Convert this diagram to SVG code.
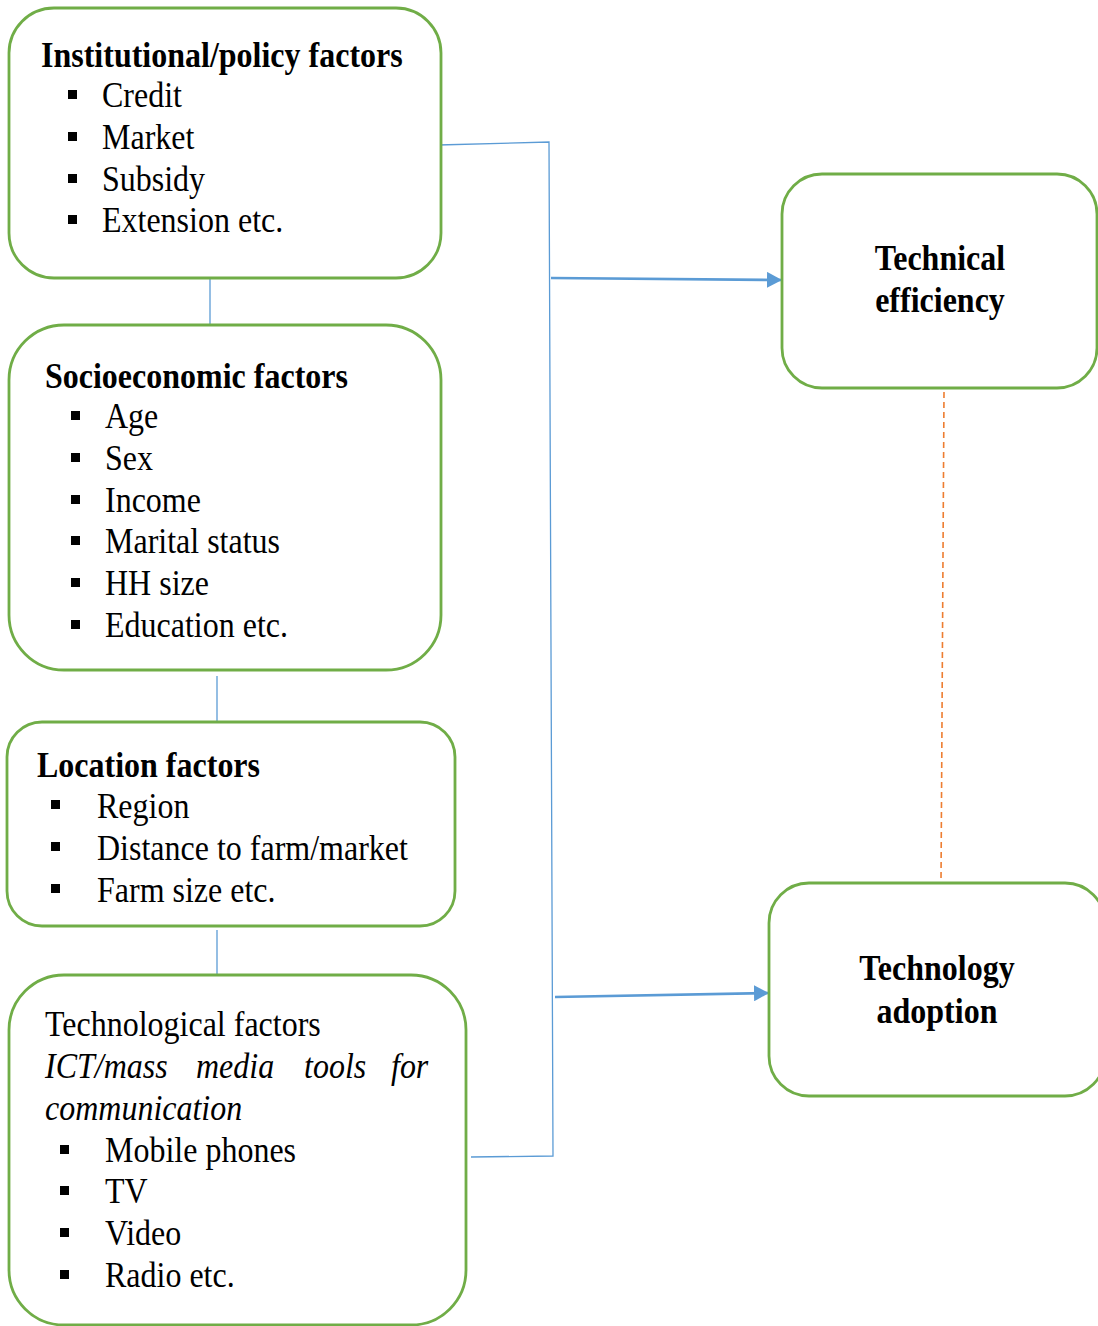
<svg xmlns="http://www.w3.org/2000/svg" width="1098" height="1326" viewBox="0 0 1098 1326">
<style>
.box{fill:#fff;stroke:#70AD47;stroke-width:2.8}
.t{font-family:"Liberation Serif","Times New Roman",serif;font-size:32px;fill:#000}
.b{font-weight:bold}
.i{font-style:italic}
.c{text-anchor:middle}
.thin{stroke:#5B9BD5;stroke-width:1.3;fill:none}
.thick{stroke:#5B9BD5;stroke-width:2.6;fill:none}
.dash{stroke:#ED7D31;stroke-width:1.6;stroke-dasharray:6 4;fill:none}
</style>
<defs>
<marker id="arr" markerUnits="userSpaceOnUse" markerWidth="16" markerHeight="16" refX="15" refY="8" orient="auto">
<path d="M0,0 L15,8 L0,16 Z" fill="#5B9BD5"/>
</marker>
</defs>
<rect width="1098" height="1326" fill="#fff"/>
<g id="connectors">
<path class="thin" d="M438,145 L549,142 L553,1156 L471,1157"/>
<path class="thin" d="M210,278 L210,325"/>
<path class="thin" d="M217,676 L217,722"/>
<path class="thin" d="M217,930 L217,975"/>
<path class="thick" d="M551,278 L782,280" marker-end="url(#arr)"/>
<path class="thick" d="M555,997 L769,993" marker-end="url(#arr)"/>
<path class="dash" d="M944,392 L941,883"/>
</g>
<g id="institutional">
<rect class="box" x="9" y="8" width="432" height="270" rx="45"/>
<text class="t b" x="41" y="0" transform="translate(0,67) scale(1,1.12)">Institutional/policy factors</text>
<rect x="68" y="90" width="9" height="9"/><text class="t" x="102" y="0" transform="translate(0,107) scale(1,1.12)">Credit</text>
<rect x="68" y="132" width="9" height="9"/><text class="t" x="102" y="0" transform="translate(0,149) scale(1,1.12)">Market</text>
<rect x="68" y="174" width="9" height="9"/><text class="t" x="102" y="0" transform="translate(0,191) scale(1,1.12)">Subsidy</text>
<rect x="68" y="215" width="9" height="9"/><text class="t" x="102" y="0" transform="translate(0,232) scale(1,1.12)">Extension etc.</text>
</g>
<g id="socioeconomic">
<rect class="box" x="9" y="325" width="432" height="345" rx="55"/>
<text class="t b" x="45" y="0" transform="translate(0,388) scale(1,1.12)">Socioeconomic factors</text>
<rect x="71" y="411" width="9" height="9"/><text class="t" x="105" y="0" transform="translate(0,428) scale(1,1.12)">Age</text>
<rect x="71" y="453" width="9" height="9"/><text class="t" x="105" y="0" transform="translate(0,470) scale(1,1.12)">Sex</text>
<rect x="71" y="495" width="9" height="9"/><text class="t" x="105" y="0" transform="translate(0,512) scale(1,1.12)">Income</text>
<rect x="71" y="536" width="9" height="9"/><text class="t" x="105" y="0" transform="translate(0,553) scale(1,1.12)">Marital status</text>
<rect x="71" y="578" width="9" height="9"/><text class="t" x="105" y="0" transform="translate(0,595) scale(1,1.12)">HH size</text>
<rect x="71" y="620" width="9" height="9"/><text class="t" x="105" y="0" transform="translate(0,637) scale(1,1.12)">Education etc.</text>
</g>
<g id="location">
<rect class="box" x="7" y="722" width="448" height="204" rx="35"/>
<text class="t b" x="37" y="0" transform="translate(0,777) scale(1,1.12)">Location factors</text>
<rect x="51" y="800" width="9" height="9"/><text class="t" x="97" y="0" transform="translate(0,818) scale(1,1.12)">Region</text>
<rect x="51" y="842" width="9" height="9"/><text class="t" x="97" y="0" transform="translate(0,860) scale(1,1.12)">Distance to farm/market</text>
<rect x="51" y="884" width="9" height="9"/><text class="t" x="97" y="0" transform="translate(0,902) scale(1,1.12)">Farm size etc.</text>
</g>
<g id="technological">
<rect class="box" x="9" y="975" width="457" height="350" rx="55"/>
<text class="t" x="45" y="0" transform="translate(0,1036) scale(1,1.12)">Technological factors</text>
<text class="t i" x="45" y="0" transform="translate(0,1078) scale(1,1.12)">ICT/mass</text>
<text class="t i" x="196" y="0" transform="translate(0,1078) scale(1,1.12)">media</text>
<text class="t i" x="304" y="0" transform="translate(0,1078) scale(1,1.12)">tools</text>
<text class="t i" x="391" y="0" transform="translate(0,1078) scale(1,1.12)">for</text>
<text class="t i" x="45" y="0" transform="translate(0,1120) scale(1,1.12)">communication</text>
<rect x="60" y="1145" width="9" height="9"/><text class="t" x="105" y="0" transform="translate(0,1162) scale(1,1.12)">Mobile phones</text>
<rect x="60" y="1186" width="9" height="9"/><text class="t" x="105" y="0" transform="translate(0,1203) scale(1,1.12)">TV</text>
<rect x="60" y="1228" width="9" height="9"/><text class="t" x="105" y="0" transform="translate(0,1245) scale(1,1.12)">Video</text>
<rect x="60" y="1270" width="9" height="9"/><text class="t" x="105" y="0" transform="translate(0,1287) scale(1,1.12)">Radio etc.</text>
</g>
<g id="technical-efficiency">
<rect class="box" x="782" y="174" width="315" height="214" rx="40"/>
<text class="t b c" x="940" y="0" transform="translate(0,270) scale(1,1.12)">Technical</text>
<text class="t b c" x="940" y="0" transform="translate(0,312) scale(1,1.12)">efficiency</text>
</g>
<g id="technology-adoption">
<rect class="box" x="769" y="883" width="336" height="213" rx="40"/>
<text class="t b c" x="937" y="0" transform="translate(0,980) scale(1,1.12)">Technology</text>
<text class="t b c" x="937" y="0" transform="translate(0,1023) scale(1,1.12)">adoption</text>
</g>
</svg>
